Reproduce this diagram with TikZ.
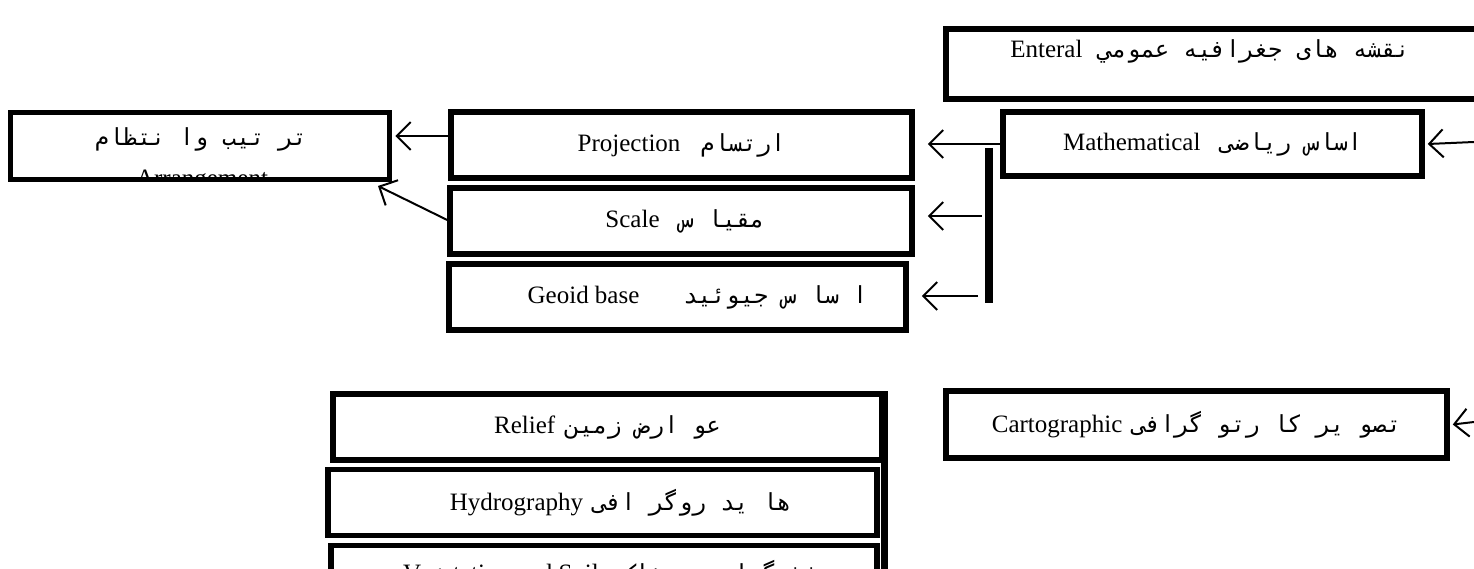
\documentclass[tikz,border=0pt]{standalone}
\usepackage{fontspec}
\setmainfont{Liberation Serif}
\newfontfamily\arfont[Script=Arabic]{DejaVu Sans Mono}
\TeXXeTstate=1
\usetikzlibrary{arrows.meta}
\newcommand{\lat}[1]{{\fontsize{25}{30}\selectfont #1}}
\newcommand{\ar}[1]{{\arfont\fontsize{23.5}{28}\selectfont\beginR #1\endR}}
\tikzset{
  box/.style={draw, line width=5.5pt, inner sep=0pt, align=center},
  conn/.style={line width=2pt, -{Straight Barb[length=14pt,width=28pt,line width=2pt]}},
  bar/.style={line width=8pt}
}
\begin{document}
\begin{tikzpicture}[x=1pt,y=-1pt]
\useasboundingbox (0,0) rectangle (1474,569);
% top box
\node[box, minimum width=534pt, minimum height=70pt] (ent) at (1213,64) {};
\node[inner sep=0pt] (entt) at (1210,51) {\lat{Enteral}\hspace{16pt}\ar{نقشه های جغرافیه عمومي}};
% arrangement
\node[box, minimum width=379pt, minimum height=67pt] (arr) at (200,146) {};
\node[inner sep=0pt] (arrt) at (201,139) {\ar{تر تیب وا نتظام}};
\begin{scope}
\clip ([shift={(2.75pt,2.75pt)}]arr.south west) rectangle ([shift={(-2.75pt,-2.75pt)}]arr.north east);
\node[inner sep=0pt, anchor=north] (arrl) at (202,170) {\lat{Arrangement}};
\end{scope}
% middle column
\node[box, minimum width=461pt, minimum height=66pt] (proj) at (681.5,145) {\lat{Projection}\hspace{20pt}\ar{ارتسام}};
\node[box, minimum width=462pt, minimum height=66pt] (scl) at (681,221) {\hspace{8pt}\lat{Scale}\hspace{20pt}\ar{مقیا س}};
\node[box, minimum width=457pt, minimum height=66pt] (geo) at (677.5,297) {\hspace{40pt}\lat{Geoid base}\hspace{44pt}\ar{ا سا س جیوئید}};
% mathematical
\node[box, minimum width=419pt, minimum height=64pt] (math) at (1212.5,144) {\lat{Mathematical}\hspace{20pt}\ar{اساس  ریاضی}};
% bar
\coordinate (bt) at (989,148);
\coordinate (bb) at (989,303);
\draw[bar] (bt) -- (bb);
\coordinate (rin1) at (1474,142);
\coordinate (rin2) at (1474,422);
\coordinate (b2) at (982,216);
\coordinate (b3) at (978,296);
\draw[conn] (rin1) -- ([xshift=3pt]math.east);
\draw[conn] (math.west |- 0,144) -- ([xshift=13pt]proj.east |- 0,144);
\draw[conn] (b2) -- ([xshift=13pt]scl.east |- b2);
\draw[conn] (b3) -- ([xshift=13pt]geo.east |- b3);
\draw[conn] (proj.west |- 0,136) -- ([xshift=3pt]arr.east |- 0,136);
\draw[conn] (scl.west |- 0,220) -- (378,186);
% cartographic
\node[box, minimum width=501pt, minimum height=67pt] (carto) at (1196.5,424.5) {\lat{Cartographic}\hspace{10pt}\ar{تصو یر کا رتو گرافی}};
\draw[conn] (rin2) -- ([xshift=3pt]carto.east);
% lower column
\node[box, minimum width=549pt, minimum height=66pt] (rel) at (607.5,427) {\lat{Relief}\hspace{10pt}\ar{عو ارض زمین}};
\node[box, minimum width=549pt, minimum height=66pt] (hyd) at (602.5,502.5) {\hspace{36pt}\lat{Hydrography}\hspace{10pt}\ar{ها ید روگر افی}};
\node[box, minimum width=546pt, minimum height=57pt] (veg) at (604,574) {\hspace{42pt}\lat{Vegetation and Soils}\hspace{12pt}\ar{پوشش گیاهی و خاک}};
\coordinate (sh1) at (884,391);
\coordinate (sh2) at (884,575);
\draw[line width=7pt] (sh1) -- (sh2);
\end{tikzpicture}
\end{document}
